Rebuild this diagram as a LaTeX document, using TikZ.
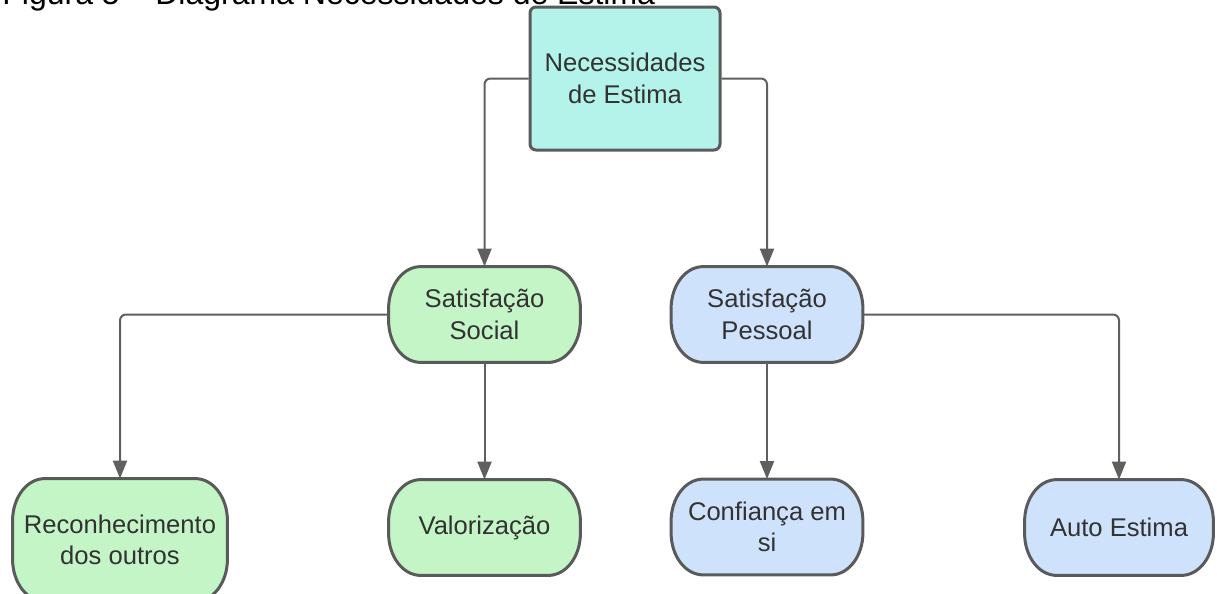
\documentclass[tikz,border=0pt]{standalone}
\usepackage{fontspec}
\setmainfont{Liberation Sans}
\usetikzlibrary{arrows.meta, backgrounds}
\definecolor{edgegray}{RGB}{90, 90, 90}
\definecolor{linkgray}{RGB}{95, 95, 95}
\definecolor{textgray}{RGB}{50, 50, 50}
\definecolor{estimafill}{RGB}{180, 243, 233}
\definecolor{socialfill}{RGB}{196, 245, 198}
\definecolor{pessoalfill}{RGB}{207, 226, 252}

\begin{document}
\begin{tikzpicture}[x=0.5pt, y=-0.5pt, >={Triangle[width=7pt,length=9pt]},
    box/.style={text=textgray, align=center, inner sep=0pt,
        font=\fontsize{12.8}{15.8}\selectfont},
    topbox/.style={box, draw=edgegray, line width=1.5pt, fill=estimafill,
        rounded corners=3pt, minimum width=95pt, minimum height=71.5pt},
    pill/.style={box, minimum width=95.5pt, minimum height=47.5pt},
    pillline/.style={draw=edgegray, line width=1.5pt},
    link/.style={->, draw=linkgray, line width=1pt, rounded corners=3pt}]
    % page and title
    \useasboundingbox (0, 0) rectangle (1217, 594);
    \clip (0, 0) rectangle (1217, 594);
    \node[anchor=base west, inner sep=0pt, font=\fontsize{16}{19}\selectfont]
        (title) at (2, 4) {Figura 5 -- Diagrama Necessidades de Estima};
    % nodes
    \node[topbox] (estima) at (625, 78.5) {Necessidades\\de Estima};
    \node[pill] (social) at (484.5, 314.5) {Satisfação\\Social};
    \node[pill] (pessoal) at (767, 314.5) {Satisfação\\Pessoal};
    \node[pill, minimum width=107pt, minimum height=61pt]
        (reconhec) at (120, 540) {Reconhecimento\\dos outros};
    \node[pill] (valor) at (484.5, 527.5) {Valorização};
    \node[pill] (confianca) at (767, 527) {Confiança em\\si};
    \node[pill, minimum width=94pt] (autoest) at (1119, 527.5) {Auto Estima};
    % pill outlines behind the texts
    \begin{scope}[on background layer]
    \foreach \n/\c in {social/socialfill, pessoal/pessoalfill,
            reconhec/socialfill, valor/socialfill,
            confianca/pessoalfill, autoest/pessoalfill}
        \draw[pillline, fill=\c] ([xshift=16pt]\n.north west)
            -- ([xshift=-16pt]\n.north east)
            arc[start angle=90, end angle=0, x radius=16pt, y radius=21pt]
            -- ([yshift=21pt]\n.south east)
            arc[start angle=0, end angle=-90, x radius=16pt, y radius=21pt]
            -- ([xshift=16pt]\n.south west)
            arc[start angle=270, end angle=180, x radius=16pt, y radius=21pt]
            -- ([yshift=-21pt]\n.north west)
            arc[start angle=180, end angle=90, x radius=16pt, y radius=21pt]
            -- cycle;
    \end{scope}
    % connectors
    \draw[link] (estima.west) -| (social.north);
    \draw[link] (estima.east) -| (pessoal.north);
    \draw[link] (social.west) -| (reconhec.north);
    \draw[link] (social.south) -- (valor.north);
    \draw[link] (pessoal.south) -- (confianca.north);
    \draw[link] (pessoal.east) -| (autoest.north);
\end{tikzpicture}
\end{document}
